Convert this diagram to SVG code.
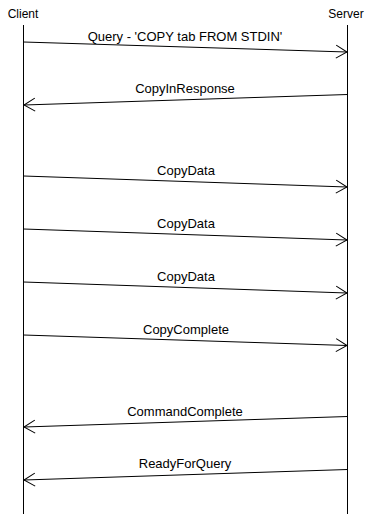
<svg xmlns="http://www.w3.org/2000/svg" width="368" height="514" viewBox="0 0 368 514">
  <style>
    .actor { font-family: "Liberation Sans", Arial, sans-serif; font-size: 12px; fill: #000; text-anchor: middle; }
    .label { font-family: "Liberation Sans", Arial, sans-serif; font-size: 13px; fill: #000; text-anchor: middle; }
    .life { stroke: #000; stroke-width: 1; fill: none; }
    .msg { stroke: #000; stroke-width: 1; fill: none; marker-end: url(#open); }
  </style>
  <defs>
    <marker id="open" markerUnits="userSpaceOnUse" markerWidth="14" markerHeight="14" refX="12" refY="7" orient="auto" overflow="visible">
      <path d="M1,0.5 L12,7 L1,13.5" fill="none" stroke="#000" stroke-width="1"/>
    </marker>
  </defs>
  <rect width="368" height="514" fill="#fff"/>

  <g id="client">
    <text class="actor" x="23" y="18">Client</text>
    <line class="life" x1="23.5" y1="25" x2="23.5" y2="514"/>
  </g>
  <g id="server">
    <text class="actor" x="346" y="18">Server</text>
    <line class="life" x1="347.5" y1="25" x2="347.5" y2="514"/>
  </g>

  <g id="messages">
    <line class="msg" x1="23.5" y1="42" x2="347" y2="52"/>
    <text class="label" x="185" y="40.5">Query - 'COPY tab FROM STDIN'</text>

    <line class="msg" x1="347.5" y1="94.5" x2="24" y2="105"/>
    <text class="label" x="185" y="93">CopyInResponse</text>

    <line class="msg" x1="23.5" y1="176" x2="347" y2="187"/>
    <text class="label" x="186" y="175">CopyData</text>

    <line class="msg" x1="23.5" y1="229" x2="347" y2="240"/>
    <text class="label" x="186" y="228">CopyData</text>

    <line class="msg" x1="23.5" y1="282" x2="347" y2="293"/>
    <text class="label" x="186" y="281">CopyData</text>

    <line class="msg" x1="23.5" y1="335" x2="347" y2="345.5"/>
    <text class="label" x="186" y="333.5">CopyComplete</text>

    <line class="msg" x1="347.5" y1="416.5" x2="24" y2="427"/>
    <text class="label" x="185" y="415.5">CommandComplete</text>

    <line class="msg" x1="347.5" y1="469.5" x2="24" y2="480"/>
    <text class="label" x="185" y="468">ReadyForQuery</text>
  </g>
</svg>
